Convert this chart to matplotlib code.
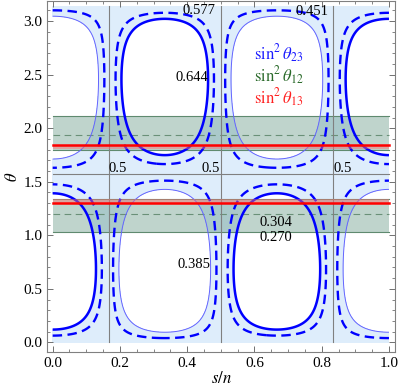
import numpy as np
import matplotlib.pyplot as plt

plt.rcParams['font.family'] = ['Liberation Serif', 'DejaVu Serif']
plt.rcParams['mathtext.fontset'] = 'stix'

# sin^2(theta_23) contour levels: 3 sigma edges and the two best fits
level_lo3, level_lo1, level_hi1, level_hi3 = 0.385, 0.451, 0.577, 0.644
# where sin^2(theta_23) = 0.5 (gray lines)
half_x = [1 / 6, 1 / 2, 5 / 6]
half_theta = [np.pi / 2]

# sin^2(theta_12) bands in theta (lower, best, upper)
band12 = [(1.03, 1.20, 1.34), (1.80, 1.94, 2.11)]
# sin^2(theta_13): best-fit line and allowed strip in theta
line13 = [1.300, 1.842]
band13 = [(1.297, 1.338), (1.803, 1.845)]

# contour labels (text, s/n, theta)
contour_labels = [
    ('0.577', 0.435, 3.10), ('0.451', 0.771, 3.093), ('0.644', 0.414, 2.47),
    ('0.5', 0.193, 1.62), ('0.5', 0.471, 1.62), ('0.5', 0.862, 1.62),
    ('0.304', 0.664, 1.12), ('0.270', 0.664, 0.983), ('0.385', 0.42, 0.73),
]
legend_names = [r'$\sin^2\theta_{23}$', r'$\sin^2\theta_{12}$', r'$\sin^2\theta_{13}$']
legend_colors = ['#1a1aff', '#2a6a2a', '#ff2020']
legend_theta = [2.70, 2.49, 2.28]

# model of the plotted surface sin^2(theta_23)(s/n, theta)
SHAPE = 0.2
s = np.linspace(0, 1, 701)
th = np.linspace(0, np.pi, 701)
S, T = np.meshgrid(s, th)
u = 3 * np.pi * S
G = np.cos(u) * (1 - SHAPE * np.sin(u) ** 2)
s23 = 0.5 + np.sqrt(6) / 2 * np.sin(2 * T) * G / (2 + np.sin(T) ** 2)

fig = plt.figure(figsize=(3.99, 3.92), dpi=100)
ax = fig.add_axes([0.1185, 0.102, 0.8715, 0.895])

ax.contourf(S, T, s23, levels=[level_lo3, level_hi3], colors=['#deedfb'], zorder=1)

# theta_12 bands
for lo, best, hi in band12:
    ax.fill_between([0, 1], lo, hi, color='#4f8a74', alpha=0.36, lw=0, zorder=2)
    for yv in (lo, hi):
        ax.plot([0, 1], [yv, yv], color='#5f8a6f', lw=0.8, zorder=2.1)
    ax.plot([0, 1], [best, best], color='#6a9078', lw=0.8, dashes=(6, 4), zorder=2.1)

# sin^2 theta_23 = 0.5 lines
for xv in half_x:
    ax.plot([xv, xv], [0, np.pi], color='#808080', lw=0.8, zorder=3)
for yv in half_theta:
    ax.plot([0, 1], [yv, yv], color='#808080', lw=0.8, zorder=3)

ax.contour(S, T, s23, levels=[level_lo3], colors=['#6464ff'], linewidths=0.7, zorder=4)
cs = ax.contour(S, T, s23, levels=[level_lo1, level_hi1], colors=['#0000ff'],
                linewidths=1.7, zorder=4)
cs.set_linestyle((0, (4, 2.3)))
ax.contour(S, T, s23, levels=[level_hi3], colors=['#0000ff'], linewidths=1.8, zorder=4)

# theta_13 strips and lines
for (lo, hi), yv in zip(band13, line13):
    ax.fill_between([0, 1], lo, hi, color='#ff7070', alpha=0.45, lw=0, zorder=5)
    ax.plot([0, 1], [yv, yv], color='#ff0000', lw=1.8, zorder=6)

for txt, xv, yv in contour_labels:
    ax.text(xv, yv, txt, fontsize=10.5, ha='center', va='center', zorder=7)

for name, col, yv in zip(legend_names, legend_colors, legend_theta):
    ax.text(0.60, yv, name, color=col, fontsize=12, ha='left', va='center', zorder=7)

ax.set_xlim(-0.016, 1.018)
ax.set_ylim(-0.09, 3.187)
ax.set_xticks(np.arange(0, 1.01, 0.2))
ax.set_xticks(np.arange(0, 1.01, 0.05), minor=True)
ax.set_yticks(np.arange(0, 3.01, 0.5))
ax.set_yticks(np.arange(0, 3.11, 0.1), minor=True)
ax.tick_params(which='both', direction='in', top=True, right=True, color='#707070',
               labelsize=11)
ax.tick_params(which='major', length=4.5, width=0.7)
ax.tick_params(which='minor', length=2.5, width=0.6)
for sp in ax.spines.values():
    sp.set_color('#808080')
    sp.set_linewidth(0.8)

ax.set_xlabel(r'$s/n$', fontsize=12, labelpad=1)
ax.set_ylabel(r'$\theta$', fontsize=12, labelpad=2)

fig.savefig('out.png', dpi=100)
